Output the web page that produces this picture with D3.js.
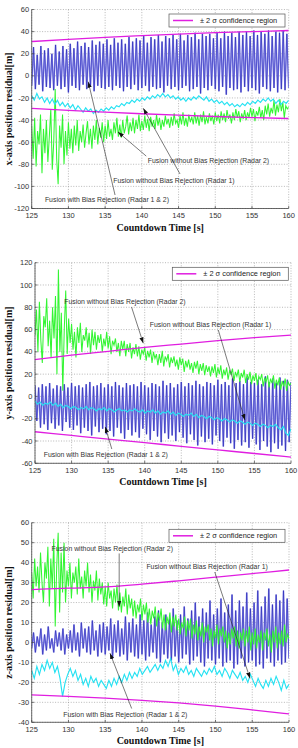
<!DOCTYPE html>
<html>
<head>
<meta charset="utf-8">
<script src="https://cdn.jsdelivr.net/npm/d3@7"></script>
<style>
  body { margin: 0; background: #fff; }
  svg { display: block; font-family: "Liberation Sans", Arial, sans-serif; }
</style>
</head>
<body>
<svg id="chart" width="298" height="748"></svg>
<script>
// Shared time axis (countdown time, s)
const timeTicks = [125, 130, 135, 140, 145, 150, 155, 160];

// ---- x-axis residual ----
const xSigmaUp = [31, 33, 34.8, 36.3, 37.7, 39, 40, 41];
const xSigmaLo = [-29.5, -31.2, -32.8, -34.3, -35.6, -36.8, -37.8, -38.6];
const xBlueLow = [-9,-12,-8,-14,-10,-11,-13,-9,-12,-10,-15,-9,-11,-13,-8,-12,-10,-14,-9,-11,
  -12,-10,-13,-9,-11,-14,-10,-12,-8,-13,-11,-9,-14,-10,-12,-11,-15,-9,-12,-10,
  -13,-11,-9,-14,-12,-10,-16,-11,-13,-9,-12,-14,-10,-17,-11,-13,-12,-15,-10,-14,
  -11,-13,-16,-10,-12,-14,-11,-15,-12,-13,-11];
const xBluePeak = [26,19,27,23,25,20,28,22,27,24, 29,25,31,27,30,26,32,28,31,29,
  33,28,34,30,33,29,35,31,34,32, 36,30,35,33,37,31,36,34,37,33,
  38,32,37,35,39,33,38,36,38,34, 39,34,40,36,39,35,40,37,40,36,
  41,37,40,38,41,36,40,39,41,38];
const xGreen = [-45,-75,-38,-82,-50, -62,-35,-88,-48,-70, -40,-78,-55,-30,-85, -60,-12,-75,-98,-45,
  -65,-35,-80,-50,-72, -42,-66,-48,-70,-45, -63,-40,-68,-50,-60, -44,-65,-52,-41,-62,
  -48,-66,-45,-58,-40, -62,-47,-56,-42,-60, -45,-57,-40,-55,-48, -58,-42,-52,-38,-55,
  -44,-56,-40,-52,-46, -36,-53,-42,-50,-38, -52,-40,-48,-35,-50, -41,-49,-36,-47,-39,
  -50,-37,-46,-40,-48, -35,-45,-38,-49,-40, -46,-36,-44,-39,-47, -37,-45,-34,-43,-40,
  -47,-36,-44,-33,-45, -38,-46,-35,-42,-37, -44,-33,-43,-36,-45, -35,-42,-32,-44,-37,
  -43,-34,-41,-36,-44, -33,-41,-35,-43,-32, -40,-34,-42,-31,-39, -35,-43,-33,-40,-30,
  -38,-32,-42,-34,-39, -31,-40,-33,-38,-29, -37,-30,-41,-32,-36, -28,-38,-31,-40,-27,
  -35,-25,-37,-29,-34, -22,-36,-26,-33,-21, -32,-24,-38,-27,-30, -28];
const xCyan = [-18,-22,-16,-21,-19,-24,-20,-25,-21,-26, -22,-27,-24,-28,-25,-29,-26,-31,-27,-30,
  -33,-29,-32,-30,-34,-31,-33,-30,-32,-29, -31,-28,-30,-27,-28,-25,-27,-24,-25,-22,
  -24,-21,-23,-20,-22,-19,-21,-18,-20,-17, -19,-16,-19,-17,-20,-18,-21,-19,-22,-20,
  -23,-20,-22,-19,-21,-18,-20,-22,-19,-23, -21,-24,-22,-25,-23,-26,-24,-27,-25,-28,
  -26,-28,-25,-27,-24,-26,-23,-25,-22,-24, -21,-23,-20,-23,-21,-25,-22,-26,-23,-25, -22];

// ---- y-axis residual ----
const ySigmaUp = [33, 37, 40.5, 44, 47, 50, 52.7, 55];
const ySigmaLo = [-31.7, -35, -38.3, -41.5, -44.8, -48, -51.2, -54.5];
const yBlueTop = [10,8,11,9,12,7,10,9,11,8, 12,9,10,8,11,13,9,10,12,8,
  11,9,13,10,8,12,10,11,9,13, 10,8,12,11,9,14,10,12,8,11,
  13,9,12,10,14,11,9,13,12,10, 15,11,13,10,16,12,14,11,17,13,
  12,15,11,18,13,16,12,17,14,15, 13];
const yBlueDip = [-22,-28,-25,-30,-24,-29,-26,-31,-23,-28, -30,-26,-33,-28,-31,-35,-27,-32,-29,-34,
  -31,-36,-28,-33,-38,-30,-35,-32,-37,-29, -34,-39,-31,-36,-41,-33,-38,-35,-40,-32,
  -37,-42,-34,-39,-44,-36,-41,-38,-43,-35, -40,-45,-37,-42,-47,-39,-44,-41,-46,-38,
  -43,-48,-40,-45,-50,-42,-47,-44,-49,-41];
const yGreen = [55,78,40,85,50, 30,72,62,88,45, 68,35,80,52,90, 20,114,40,75,5,
  60,95,38,70,48, 65,42,58,35,62, 48,66,40,55,50, 62,44,57,38,60,
  46,58,42,55,48, 56,40,52,45,58, 43,54,38,50,46, 52,40,48,36,50,
  42,50,36,47,40, 48,34,44,38,47, 36,45,33,42,38, 44,32,41,35,42,
  30,40,34,38,28, 38,30,41,27,36, 32,38,26,35,30, 36,27,33,24,35,
  28,34,22,32,26, 33,24,30,21,31, 25,32,20,29,23, 30,19,28,22,27,
  18,27,21,29,17, 26,20,28,16,24, 19,26,15,23,20, 25,14,22,18,24,
  13,21,17,24,12, 20,15,22,11,19, 14,21,10,18,15, 20,9,17,13,19,
  8,16,12,19,7, 15,10,17,6,14, 9,16,5,13,10, 12];
const yCyan = [-4,-7,-5,-8,-6,-7,-5,-8,-6,-9, -7,-10,-8,-9,-11,-9,-10,-12,-10,-11,
  -9,-12,-10,-11,-13,-11,-12,-10,-13,-11, -12,-14,-12,-11,-13,-12,-14,-12,-13,-11,
  -13,-14,-12,-15,-13,-14,-12,-15,-13,-16, -14,-15,-13,-16,-14,-17,-15,-16,-18,-16,
  -17,-15,-18,-16,-19,-17,-18,-20,-18,-19, -21,-19,-20,-22,-20,-21,-23,-21,-22,-24,
  -22,-23,-25,-23,-24,-26,-24,-25,-27,-25, -26,-28,-26,-27,-25,-28,-30,-27,-33,-35, -29];

// ---- z-axis residual ----
const zSigmaUp = [26.5, 27.2, 27.8, 29.2, 30.9, 32.7, 34.5, 36.3];
const zSigmaLo = [-26.3, -27, -27.9, -29, -30.3, -31.9, -33.8, -35.8];
const zBlueLow = [-3,-5,-2,-6,-4,-3,-5,-2,-4,-6, -3,-5,-4,-7,-3,-5,-6,-4,-7,-5,
  -6,-4,-8,-5,-7,-6,-9,-5,-7,-8, -6,-9,-7,-5,-8,-10,-6,-8,-9,-7,
  -10,-8,-6,-11,-9,-7,-10,-12,-8,-9, -11,-8,-12,-10,-9,-13,-11,-8,-12,-10,
  -9,-12,-11,-13,-8,-10,-12,-9,-11,-10, -8];
const zBluePeak = [5,3,7,4,8,2,6,5,7,4, 6,9,5,10,7,8,11,6,9,10,
  8,12,9,11,7,13,10,12,9,14, 11,15,9,13,16,10,14,12,17,11,
  14,18,12,16,20,13,17,15,21,14, 17,22,15,19,24,16,21,18,25,17,
  20,26,18,23,27,19,24,21,26,22];
const zGreen = [35,22,42,28,38, 25,45,30,20,40, 32,48,18,42,27, 52,8,38,55,15,
  45,25,50,20,36, 28,40,22,35,30, 38,24,42,27,33, 22,36,28,40,25,
  34,20,31,26,36, 21,32,24,30,19, 28,18,30,22,26, 17,27,20,29,16,
  25,15,23,18,27, 14,24,17,22,13, 21,12,19,15,22, 11,19,14,20,10,
  17,9,16,12,18, 8,15,11,17,7, 14,6,13,9,15, 5,13,8,14,6,
  12,4,10,7,13, 3,11,6,12,2, 9,4,11,1,8, 3,10,0,8,5,
  9,1,7,-2,6, 2,9,-1,7,3, 8,0,6,-3,5, -1,7,2,8,-2,
  6,-3,5,1,7, -2,6,0,8,-4, 5,-1,7,-3,4, 0,6,-4,5,1,
  7,-2,4,-5,6, 0,8,-3,5,-1, 6,-2,9,0,4, 2];
const zCyan = [-14,-18,-12,-16,-11,-14,-9,-13,-10,-15, -12,-18,-27,-20,-16,-13,-17,-14,-19,-16,
  -21,-18,-22,-17,-20,-18,-22,-19,-21,-23, -19,-22,-18,-21,-17,-20,-16,-19,-15,-18,
  -15,-17,-13,-16,-14,-12,-15,-13,-11,-14, -11,-13,-9,-12,-8,-14,-11,-16,-13,-15,
  -12,-16,-14,-17,-13,-15,-17,-14,-16,-13, -15,-12,-16,-14,-17,-13,-15,-18,-14,-16,
  -18,-15,-19,-17,-20,-16,-19,-22,-18,-21, -23,-19,-22,-18,-21,-17,-20,-24,-19,-23, -21];

const labelR2 = "Fusion without Bias Rejection (Radar 2)";
const labelR1 = "Fusion without Bias Rejection (Radar 1)";
const labelBR = "Fusion with Bias Rejection (Radar 1 & 2)";

// sample steps of the recorded series
const blueStep = 0.25, greenStep = 0.2, cyanStep = 0.35;

// interleave the two blue extremes into one oscillating trace
function interleave(a, b) {
  const out = [];
  a.forEach((v, i) => { out.push(v); if (i < b.length) out.push(b[i]); });
  return out;
}
const toSeries = (vals, step) => vals.map((v, i) => [125 + i * step, v]);

const panels = [
  {
    ylabel: "x-axis position residual[m]", yDomain: [-120, 60], yStep: 20,
    left: 31.7, right: 288.7, top: 9.5, bottom: 208.5,
    blue: interleave(xBlueLow, xBluePeak), green: xGreen, cyan: xCyan,
    up: xSigmaUp, lo: xSigmaLo,
    legend: { dx: 3.7, dy: 4.5 },
    notes: [
      { text: labelR2, t: 140.8, v: -78.8, from: [140.6, -72.6], to: [136.75, -50.8] },
      { text: labelR1, t: 136.1, v: -96.5, from: [145.2, -88.8], to: [140.2, -29.4] },
      { text: labelBR, t: 126.8, v: -113.7, from: [136.35, -107.8], to: [132.7, -5.3] }
    ]
  },
  {
    ylabel: "y-axis position residual[m]", yDomain: [-60, 120], yStep: 20,
    left: 35, right: 291, top: 262.7, bottom: 463.3,
    blue: interleave(yBlueTop, yBlueDip), green: yGreen, cyan: yCyan,
    up: ySigmaUp, lo: ySigmaLo,
    legend: { dx: 2.7, dy: 4.6 },
    notes: [
      { text: labelR2, t: 129.0, v: 83.0, from: [138.2, 80.2], to: [139.8, 47.7] },
      { text: labelR1, t: 140.7, v: 61.9, from: [150.06, 59.6], to: [153.7, -21.2] },
      { text: labelBR, t: 126.2, v: -54.2, from: [135.5, -47.2], to: [134.6, -27.3] }
    ]
  },
  {
    ylabel: "z-axis position residual[m]", yDomain: [-40, 60], yStep: 10,
    left: 31.7, right: 289, top: 522.7, bottom: 722.3,
    blue: interleave(zBlueLow, zBluePeak), green: zGreen, cyan: zCyan,
    up: zSigmaUp, lo: zSigmaLo,
    legend: { dx: 4, dy: 6.6 },
    notes: [
      { text: labelR2, t: 127.7, v: 45.9, from: [136.9, 44.6], to: [136.9, 17.9] },
      { text: labelR1, t: 140.6, v: 36.7, from: [149.9, 35.3], to: [154.7, -18] },
      { text: labelBR, t: 129.3, v: -37.1, from: [138.6, -33.1], to: [135.65, -5.4] }
    ]
  }
];

const svg = d3.select("#chart");

// arrow head for the annotations
svg.append("defs").append("marker")
  .attr("id", "arrow")
  .attr("viewBox", "0 0 10 10")
  .attr("refX", 10).attr("refY", 5)
  .attr("markerWidth", 6).attr("markerHeight", 6)
  .attr("markerUnits", "userSpaceOnUse")
  .attr("orient", "auto")
  .append("path").attr("d", "M0,1.5L10,5L0,8.5z").attr("fill", "#111");

panels.forEach((p, pi) => {
  const x = d3.scaleLinear().domain([125, 160]).range([p.left, p.right]);
  const y = d3.scaleLinear().domain(p.yDomain).range([p.bottom, p.top]);
  const yTicks = d3.range(p.yDomain[0], p.yDomain[1] + 0.1, p.yStep);
  const g = svg.append("g");

  g.append("clipPath").attr("id", "clip" + pi)
    .append("rect")
    .attr("x", p.left).attr("y", p.top)
    .attr("width", p.right - p.left).attr("height", p.bottom - p.top);

  // dotted grid (also forms the top and right frame)
  g.selectAll(".gx").data(timeTicks).enter().append("line")
    .attr("x1", d => x(d)).attr("x2", d => x(d))
    .attr("y1", p.top).attr("y2", p.bottom)
    .attr("stroke", "#8a8a8a").attr("stroke-width", 0.6)
    .attr("stroke-dasharray", "1,1.6");
  g.selectAll(".gy").data(yTicks).enter().append("line")
    .attr("x1", p.left).attr("x2", p.right)
    .attr("y1", d => y(d)).attr("y2", d => y(d))
    .attr("stroke", "#8a8a8a").attr("stroke-width", 0.6)
    .attr("stroke-dasharray", "1,1.6");

  const line = d3.line().x(d => x(d[0])).y(d => y(d[1]));
  const plot = g.append("g").attr("clip-path", `url(#clip${pi})`);

  // blue: light halo under a thin dark trace
  const blueData = toSeries(p.blue, blueStep);
  plot.append("path").datum(blueData)
    .attr("d", line).attr("fill", "none")
    .attr("stroke", "#9494ee").attr("stroke-width", 1.6);
  plot.append("path").datum(blueData)
    .attr("d", line).attr("fill", "none")
    .attr("stroke", "#1e1eb0").attr("stroke-width", 0.55);
  plot.append("path").datum(toSeries(p.green, greenStep))
    .attr("d", line).attr("fill", "none")
    .attr("stroke", "#33f533").attr("stroke-width", 1.05);
  plot.append("path").datum(toSeries(p.cyan, cyanStep))
    .attr("d", line).attr("fill", "none")
    .attr("stroke", "#26e2f2").attr("stroke-width", 1.15);

  const sigmaLine = d3.line().curve(d3.curveMonotoneX)
    .x((d, i) => x(timeTicks[i])).y(d => y(d));
  [p.up, p.lo].forEach(s => {
    plot.append("path").datum(s)
      .attr("d", sigmaLine).attr("fill", "none")
      .attr("stroke", "#e01ee0").attr("stroke-width", 1.3);
  });

  // solid left and bottom axes with inward ticks
  g.append("line").attr("x1", p.left).attr("x2", p.left)
    .attr("y1", p.top).attr("y2", p.bottom)
    .attr("stroke", "#444").attr("stroke-width", 0.8);
  g.append("line").attr("x1", p.left).attr("x2", p.right)
    .attr("y1", p.bottom).attr("y2", p.bottom)
    .attr("stroke", "#444").attr("stroke-width", 0.8);
  g.selectAll(".tx").data(timeTicks).enter().append("line")
    .attr("x1", d => x(d)).attr("x2", d => x(d))
    .attr("y1", p.bottom).attr("y2", p.bottom - 2.5)
    .attr("stroke", "#444").attr("stroke-width", 0.7);
  g.selectAll(".ty").data(yTicks).enter().append("line")
    .attr("x1", p.left).attr("x2", p.left + 2.5)
    .attr("y1", d => y(d)).attr("y2", d => y(d))
    .attr("stroke", "#444").attr("stroke-width", 0.7);

  g.selectAll(".lx").data(timeTicks).enter().append("text")
    .attr("x", d => x(d)).attr("y", p.bottom + 9.5)
    .attr("text-anchor", "middle")
    .attr("font-size", "7.5px").attr("fill", "#333")
    .text(d => d);
  g.selectAll(".ly").data(yTicks).enter().append("text")
    .attr("x", p.left - 2.5).attr("y", d => y(d) + 2.6)
    .attr("text-anchor", "end")
    .attr("font-size", "7.5px").attr("fill", "#333")
    .text(d => d);

  // axis titles
  g.append("text")
    .attr("x", (p.left + p.right) / 2).attr("y", p.bottom + 22)
    .attr("text-anchor", "middle")
    .attr("font-family", "'Liberation Serif', 'Times New Roman', serif")
    .attr("font-weight", "bold").attr("font-size", "10px").attr("fill", "#111")
    .text("Countdown Time [s]");
  g.append("text")
    .attr("transform", `translate(11.5,${(p.top + p.bottom) / 2}) rotate(-90)`)
    .attr("text-anchor", "middle")
    .attr("font-family", "'Liberation Serif', 'Times New Roman', serif")
    .attr("font-weight", "bold").attr("font-size", "10px").attr("fill", "#111")
    .text(p.ylabel);

  // legend
  const lw = 116, lh = 13;
  const lx = p.right - p.legend.dx - lw, ly = p.top + p.legend.dy;
  const lg = g.append("g").attr("transform", `translate(${lx},${ly})`);
  lg.append("rect").attr("width", lw).attr("height", lh)
    .attr("fill", "#fff").attr("stroke", "#555").attr("stroke-width", 0.7);
  lg.append("line").attr("x1", 4).attr("x2", 24)
    .attr("y1", lh / 2).attr("y2", lh / 2)
    .attr("stroke", "#e01ee0").attr("stroke-width", 1.5);
  lg.append("text").attr("x", 31).attr("y", lh / 2 + 2.6)
    .attr("font-size", "7.4px").attr("fill", "#222")
    .text("± 2 σ confidence region");

  // annotations with arrows
  p.notes.forEach(n => {
    g.append("line")
      .attr("x1", x(n.from[0])).attr("y1", y(n.from[1]))
      .attr("x2", x(n.to[0])).attr("y2", y(n.to[1]))
      .attr("stroke", "#222").attr("stroke-width", 0.6)
      .attr("marker-end", "url(#arrow)");
    g.append("text")
      .attr("x", x(n.t)).attr("y", y(n.v))
      .attr("font-size", "6.9px").attr("fill", "#333")
      .text(n.text);
  });
});
</script>
</body>
</html>
